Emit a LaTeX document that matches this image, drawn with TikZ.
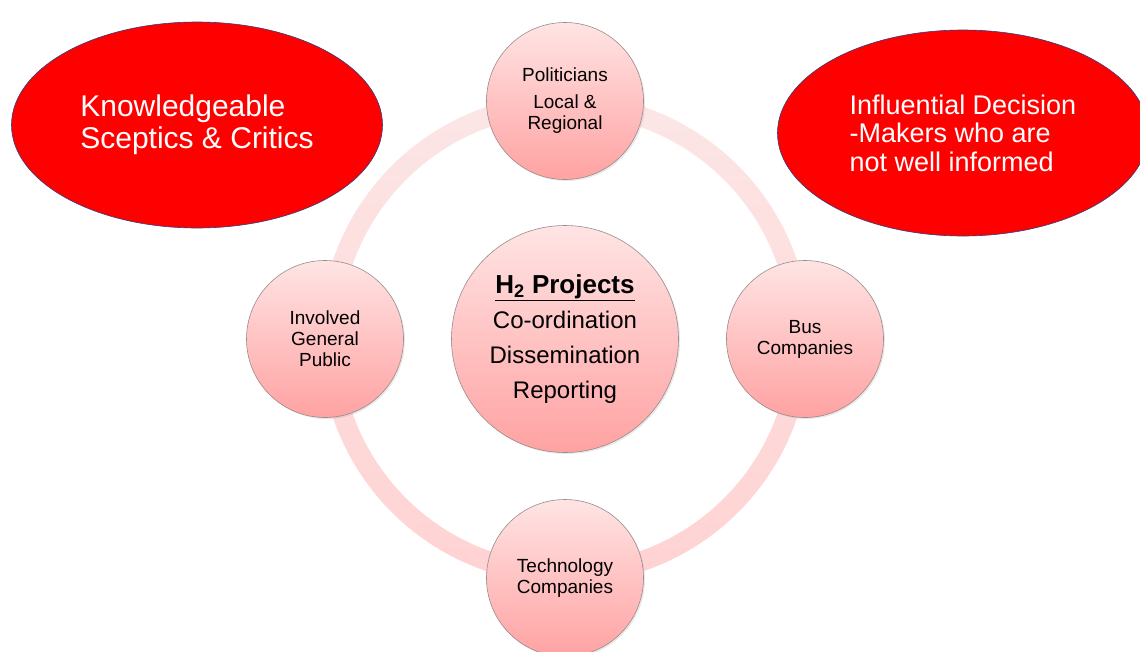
\documentclass[tikz,border=0pt]{standalone}
\usepackage{fontspec}
\setmainfont{Liberation Sans}
\usetikzlibrary{shapes.geometric,shadows}

\definecolor{ringtop}{HTML}{FCE6E6}
\definecolor{ringbot}{HTML}{FFD2D2}
\definecolor{discTop}{HTML}{FFE4E4}
\definecolor{discBot}{HTML}{FFA2A2}
\definecolor{rim}{HTML}{9A8A8A}
\definecolor{navyrim}{HTML}{2E3F80}

\begin{document}
\begin{tikzpicture}[x=1pt, y=-1pt, node distance=240pt,
    stake/.style = {circle, draw=rim, line width=0.6pt, minimum size=157pt, inner sep=0pt,
        top color=discTop, bottom color=discBot, align=center,
        font=\fontsize{19}{21}\selectfont,
        drop shadow={opacity=0.18, shadow xshift=1.5pt, shadow yshift=-1.5pt}},
    crowd/.style = {ellipse, draw=navyrim, line width=0.6pt, fill=red, text=white,
        minimum width=371pt, minimum height=206pt, align=left}]
    \useasboundingbox (0,0) rectangle (1140,651);

    % ring behind the circles
    \coordinate (mid) at (565,339);
    \path[top color=ringtop, bottom color=ringbot, even odd rule]
        (mid) circle (245) (mid) circle (225);

    % centre
    \node[stake, minimum size=227pt, font=\fontsize{24}{35}\selectfont] (hub) at (mid)
        {{\fontsize{26}{35}\selectfont\bfseries\underline{H\textsubscript{2} Projects}}\\Co-ordination\\Dissemination\\Reporting};

    % stakeholders on the ring
    \node[stake] (pol) [above of=hub, yshift=-2pt] {Politicians\\[6pt]Local \&\\Regional};
    \node[stake] (bus) [right of=hub] {Bus\\Companies};
    \node[stake] (tech) [below of=hub, yshift=1pt] {Technology\\Companies};
    \node[stake] (pub) [left of=hub] {Involved\\General\\Public};

    % groups outside
    \node[crowd, font=\fontsize{30}{32}\selectfont] (sceptics) at (197,125)
        {Knowledgeable\\Sceptics \& Critics};
    \node[crowd, font=\fontsize{27}{28.5}\selectfont] (deciders) at (963,133)
        {Influential Decision\\-Makers who are\\not well informed};
\end{tikzpicture}
\end{document}
